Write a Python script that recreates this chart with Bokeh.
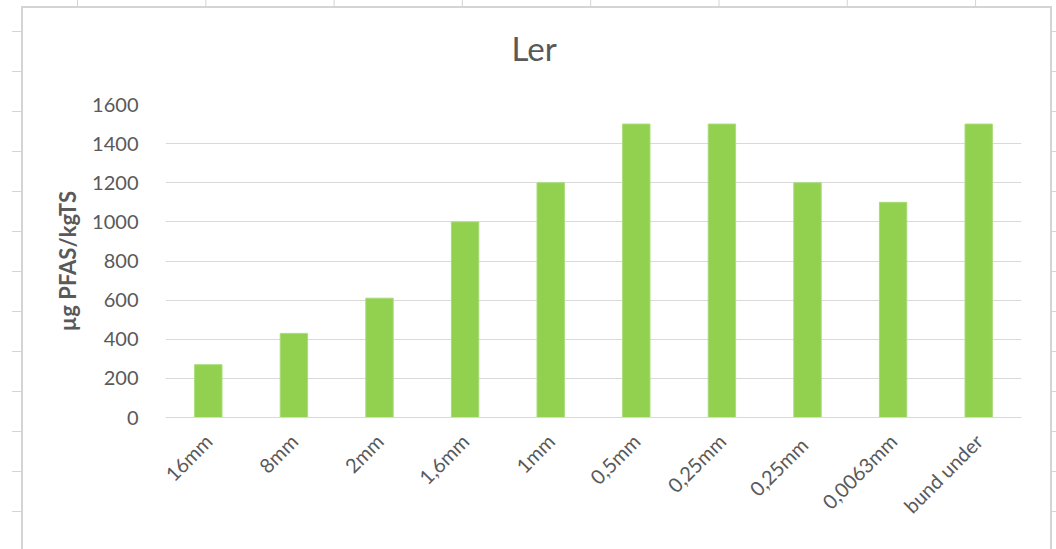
import math
from bokeh.plotting import figure
from bokeh.models import Range1d, FactorRange, FixedTicker, ColumnDataSource, Title
from bokeh.embed import file_html
from bokeh.resources import INLINE

categories = ["16mm", "8mm", "2mm", "1,6mm", "1mm", "0,5mm", "0,25mm", "0,25mm ", "0,0063mm", "bund under"]
values = [270, 430, 610, 1000, 1200, 1500, 1500, 1200, 1100, 1500]
y_ticks = [0, 200, 400, 600, 800, 1000, 1200, 1400, 1600]
title_text = "Ler"
y_label = "µg PFAS/kgTS"

FONT = "Lato"
GRAY = "#595959"
LINE = "#D4D4D4"

p = figure(width=1056, height=549, output_backend="svg", toolbar_location=None,
           x_range=FactorRange(*categories, range_padding=0), y_range=Range1d(0, 1600),
           min_border_left=165, min_border_right=35, min_border_top=104, min_border_bottom=132)
p.background_fill_color = "white"
p.border_fill_color = None
p.outline_line_color = None

# spreadsheet background and chart frame drawn as CSS backgrounds behind the transparent border
g = f"linear-gradient({LINE}, {LINE})"
p.styles = {
    "background-color": "white",
    "background-image": ", ".join([
        f"linear-gradient(to right, {LINE} 1px, transparent 1px)",   # top column lines
        f"linear-gradient(to bottom, {LINE} 1px, transparent 1px)",  # left row ticks
        f"linear-gradient(to bottom, {LINE} 1px, transparent 1px)",  # right row ticks
        g, g, g,                                                      # chart border left/top/right
    ]),
    "background-size": "128.3px 7px, 10px 40px, 5px 40px, 2px 542px, 1031px 2px, 2px 542px",
    "background-position": "77px 0px, 12px 31px, 1051px 31px, 21px 7px, 21px 6px, 1050px 7px",
    "background-repeat": "repeat-x, repeat-y, repeat-y, no-repeat, no-repeat, no-repeat",
}

src = ColumnDataSource(dict(cat=categories, val=values))
p.vbar(x="cat", top="val", width=0.32, source=src, fill_color="#92D050", line_color="#A9DC78", line_width=1)

p.title = None
p.add_layout(Title(text=" ", text_font_size="31px", standoff=0), "above")
p.add_layout(Title(text=title_text, align="left", offset=346, text_font=FONT, text_font_size="33px",
                   text_font_style="normal", text_color=GRAY, standoff=0), "above")

p.xgrid.grid_line_color = None
p.ygrid.grid_line_color = "#D9D9D9"
p.ygrid.grid_line_width = 1
p.yaxis.ticker = FixedTicker(ticks=y_ticks)
p.yaxis.axis_line_color = None
p.yaxis.major_tick_line_color = None
p.yaxis.minor_tick_line_color = None
p.yaxis.major_label_text_font = FONT
p.yaxis.major_label_text_font_size = "20px"
p.yaxis.major_label_text_color = GRAY
p.yaxis.major_label_standoff = 21
p.yaxis.axis_label = y_label
p.yaxis.axis_label_text_font = FONT
p.yaxis.axis_label_text_font_size = "22px"
p.yaxis.axis_label_text_font_style = "bold"
p.yaxis.axis_label_text_color = GRAY
p.yaxis.axis_label_standoff = 8

p.xaxis.axis_line_color = "#D9D9D9"
p.xaxis.axis_line_width = 1
p.xaxis.major_tick_line_color = None
p.xaxis.minor_tick_line_color = None
p.xaxis.major_label_orientation = math.pi / 4
p.xaxis.major_label_text_font = FONT
p.xaxis.major_label_text_font_size = "20px"
p.xaxis.major_label_text_color = GRAY
p.xaxis.major_label_standoff = 14

open("out.html", "w").write(file_html(p, INLINE))
